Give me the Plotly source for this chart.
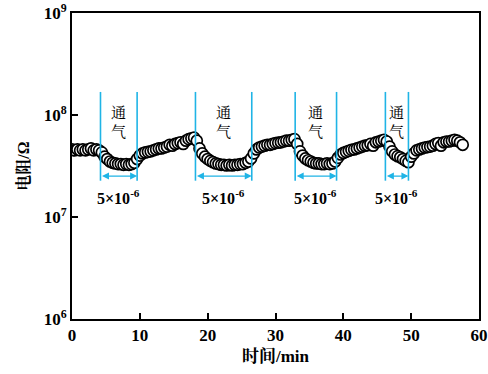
import plotly.graph_objects as go

# ---- data ----
sample_step_min = 0.4  # sampling interval, min
# resistance in units of 1e7 ohm, one value every 0.4 min starting at t = 0
resistance_1e7 = [
    4.6, 4.5, 4.6, 4.5, 4.6, 4.5, 4.6, 4.7, 4.5, 4.6,
    4.5, 4.3, 3.9, 3.7, 3.5, 3.4, 3.35, 3.3, 3.3, 3.25,
    3.3, 3.25, 3.3, 3.4, 3.7, 4.0, 4.2, 4.3, 4.35, 4.4,
    4.5, 4.6, 4.7, 4.7, 4.8, 4.9, 5.1, 5.0, 5.2, 5.3,
    5.4, 5.2, 5.6, 5.8, 5.9, 6.0, 5.6, 4.7, 4.2, 3.9,
    3.7, 3.55, 3.45, 3.35, 3.3, 3.25, 3.25, 3.2, 3.25, 3.2,
    3.25, 3.25, 3.3, 3.3, 3.4, 3.5, 3.75, 4.2, 4.6, 4.8,
    4.9, 5.0, 5.1, 5.1, 5.2, 5.3, 5.35, 5.4, 5.5, 5.6,
    5.6, 5.7, 5.8, 5.2, 4.4, 4.0, 3.75, 3.6, 3.5, 3.4,
    3.35, 3.35, 3.3, 3.3, 3.35, 3.3, 3.35, 3.5, 3.8, 4.1,
    4.25, 4.35, 4.45, 4.55, 4.6, 4.7, 4.8, 4.9, 5.0, 5.05,
    5.2, 5.0, 5.4, 5.5, 5.6, 5.7, 5.5, 4.9, 4.4, 4.1,
    3.95, 3.85, 3.7, 3.55, 3.45, 3.9, 4.2, 4.5, 4.6, 4.7,
    4.8, 4.85, 4.9, 5.0, 5.2, 5.3, 5.0, 5.4, 5.5, 5.5,
    5.6, 5.7, 5.6, 5.4, 5.1,
]
time_min = [round(i * sample_step_min, 2) for i in range(len(resistance_1e7))]
resistance = [v * 1e7 for v in resistance_1e7]

gas_on = [4.2, 18.2, 32.9, 46.2]
gas_off = [9.6, 26.5, 39.0, 49.6]
gas_label = ["通", "气"]
conc_label = "5×10<sup>-6</sup>"

y_tickvals = [1e6, 1e7, 1e8, 1e9]
y_ticktext = ["10<sup>6</sup>", "10<sup>7</sup>", "10<sup>8</sup>", "10<sup>9</sup>"]
x_tickvals = [0, 10, 20, 30, 40, 50, 60]

CYAN = "#1fb4e6"
SERIF = "Liberation Serif, Noto Serif CJK SC, Noto Sans CJK SC, serif"

fig = go.Figure()
fig.add_trace(go.Scatter(
    x=time_min, y=resistance, mode="markers",
    marker=dict(symbol="circle", size=11, color="white",
                line=dict(color="black", width=1.7)),
    showlegend=False, hoverinfo="skip",
))

line_top, line_bot = 0.742, 0.452
arrow_y = 0.467
for on, off in zip(gas_on, gas_off):
    for xv in (on, off):
        fig.add_shape(type="line", xref="x", yref="paper", x0=xv, x1=xv,
                      y0=line_bot, y1=line_top,
                      line=dict(color=CYAN, width=1.6))
    fig.add_annotation(x=off, y=arrow_y, xref="x", yref="paper",
                       ax=on, ay=0, axref="x", ayref="pixel",
                       text="", showarrow=True, arrowhead=2, arrowsize=1,
                       arrowwidth=1.4, arrowcolor=CYAN, arrowside="end+start",
                       startarrowhead=2, startarrowsize=1)
    mid = (on + off) / 2
    fig.add_annotation(x=mid, y=0.673, xref="x", yref="paper",
                       yanchor="middle", valign="middle",
                       text=gas_label[0], showarrow=False,
                       font=dict(family=SERIF, size=15, color="black"))
    fig.add_annotation(x=mid, y=0.611, xref="x", yref="paper",
                       yanchor="middle", valign="middle",
                       text=gas_label[1], showarrow=False,
                       font=dict(family=SERIF, size=15, color="black"))
    fig.add_annotation(x=mid, y=0.40, xref="x", yref="paper",
                       text="<b>" + conc_label + "</b>", showarrow=False,
                       font=dict(family=SERIF, size=16, color="black"))

fig.update_layout(
    width=488, height=374,
    margin=dict(l=72, r=9, t=13, b=55, autoexpand=False),
    paper_bgcolor="white", plot_bgcolor="white",
    font=dict(family=SERIF, color="black"),
    xaxis=dict(range=[0, 60], tickvals=x_tickvals, automargin=False,
               ticks="inside", ticklen=6, tickwidth=2, tickcolor="black",
               showline=True, linewidth=2, linecolor="black", mirror=True,
               showgrid=False, zeroline=False,
               tickfont=dict(family=SERIF, size=17, color="black", weight="bold"),
               title=dict(text="<b>时间/min</b>", standoff=6,
                          font=dict(family=SERIF, size=17, color="black"))),
    yaxis=dict(type="log", range=[6, 9], tickvals=y_tickvals, ticktext=y_ticktext,
               automargin=False,
               ticks="inside", ticklen=6, tickwidth=2, tickcolor="black",
               showline=True, linewidth=2, linecolor="black", mirror=True,
               showgrid=False, zeroline=False,
               tickfont=dict(family=SERIF, size=17, color="black", weight="bold"),
               title=dict(text="<b>电阻/Ω</b>", standoff=10,
                          font=dict(family=SERIF, size=16, color="black"))),
)

fig.write_html("out.html")
